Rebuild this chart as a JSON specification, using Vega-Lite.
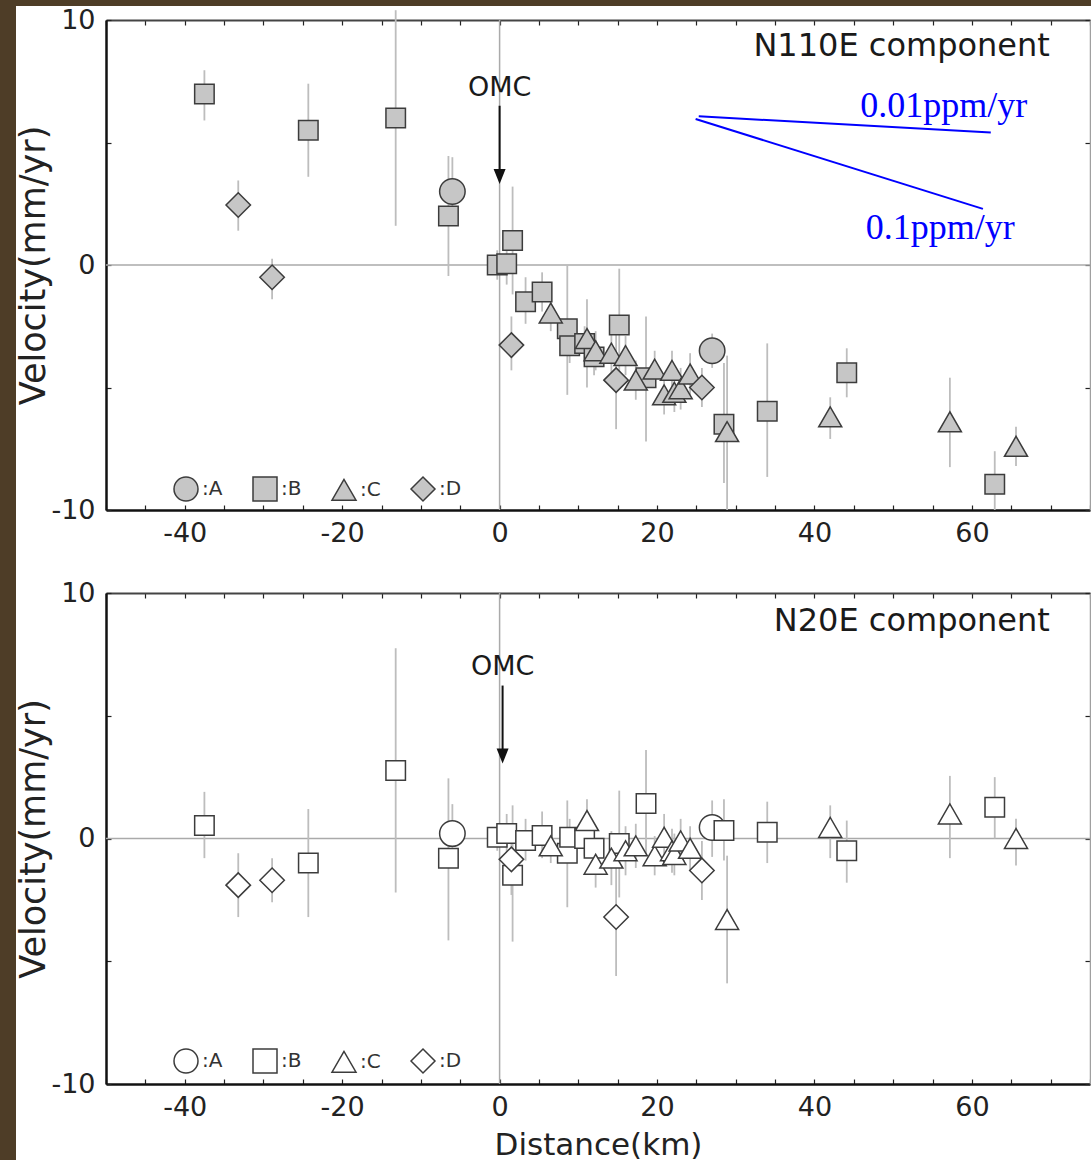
{
  "$schema": "https://vega.github.io/schema/vega-lite/v6.json",
  "background": "white",
  "padding": 0,
  "autosize": {"type": "pad"},
  "config": {"view": {"stroke": null}, "font": "DejaVu Sans"},
  "datasets": {
    "st": [
      {"g":"A","x":-6.0,"v1":3.0,"lo1":1.7,"hi1":4.4,"v2":0.2,"lo2":-1.0,"hi2":1.4},
      {"g":"A","x":27.0,"v1":-3.5,"lo1":-4.2,"hi1":-2.8,"v2":0.45,"lo2":-0.75,"hi2":1.55},
      {"g":"B","x":-37.5,"v1":6.98,"lo1":5.9,"hi1":7.95,"v2":0.53,"lo2":-0.8,"hi2":1.9},
      {"g":"B","x":-24.3,"v1":5.5,"lo1":3.6,"hi1":7.4,"v2":-1.0,"lo2":-3.2,"hi2":1.2},
      {"g":"B","x":-13.2,"v1":6.0,"lo1":1.6,"hi1":10.4,"v2":2.77,"lo2":-2.2,"hi2":7.75},
      {"g":"B","x":-6.5,"v1":2.0,"lo1":-0.45,"hi1":4.45,"v2":-0.8,"lo2":-4.15,"hi2":2.45},
      {"g":"B","x":-0.3,"v1":0.0,"lo1":-0.6,"hi1":0.6,"v2":0.05,"lo2":-0.5,"hi2":0.6},
      {"g":"B","x":0.9,"v1":0.05,"lo1":-0.8,"hi1":0.9,"v2":0.2,"lo2":-0.6,"hi2":1.0},
      {"g":"B","x":1.65,"v1":1.0,"lo1":-1.2,"hi1":3.2,"v2":-1.5,"lo2":-4.2,"hi2":1.35},
      {"g":"B","x":3.3,"v1":-1.5,"lo1":-2.4,"hi1":-0.5,"v2":-0.08,"lo2":-0.9,"hi2":0.8},
      {"g":"B","x":5.4,"v1":-1.1,"lo1":-1.9,"hi1":-0.3,"v2":0.12,"lo2":-0.8,"hi2":1.1},
      {"g":"B","x":8.6,"v1":-2.6,"lo1":-5.3,"hi1":0.0,"v2":-0.6,"lo2":-2.8,"hi2":1.55},
      {"g":"B","x":8.9,"v1":-3.3,"lo1":-4.0,"hi1":-2.6,"v2":0.05,"lo2":-0.7,"hi2":0.8},
      {"g":"B","x":10.8,"v1":-3.2,"lo1":-3.9,"hi1":-2.5,"v2":0.0,"lo2":-0.7,"hi2":0.7},
      {"g":"B","x":12.0,"v1":-3.75,"lo1":-4.5,"hi1":-3.0,"v2":-0.4,"lo2":-1.1,"hi2":0.3},
      {"g":"B","x":15.2,"v1":-2.45,"lo1":-4.5,"hi1":-0.15,"v2":-0.2,"lo2":-2.4,"hi2":1.95},
      {"g":"B","x":18.6,"v1":-4.6,"lo1":-7.2,"hi1":-2.1,"v2":1.43,"lo2":-0.7,"hi2":3.6},
      {"g":"B","x":28.5,"v1":-6.5,"lo1":-8.9,"hi1":-4.0,"v2":0.33,"lo2":-0.9,"hi2":1.6},
      {"g":"B","x":34.0,"v1":-5.97,"lo1":-8.65,"hi1":-3.2,"v2":0.25,"lo2":-1.0,"hi2":1.5},
      {"g":"B","x":44.1,"v1":-4.4,"lo1":-5.4,"hi1":-3.4,"v2":-0.5,"lo2":-1.8,"hi2":0.73},
      {"g":"B","x":62.9,"v1":-8.95,"lo1":-10.0,"hi1":-7.6,"v2":1.27,"lo2":0.0,"hi2":2.5},
      {"g":"C","x":6.5,"v1":-1.96,"lo1":-2.7,"hi1":-1.25,"v2":-0.3,"lo2":-1.0,"hi2":0.4},
      {"g":"C","x":11.1,"v1":-3.0,"lo1":-5.0,"hi1":-1.4,"v2":0.73,"lo2":-0.2,"hi2":1.6},
      {"g":"C","x":12.2,"v1":-3.5,"lo1":-4.3,"hi1":-2.7,"v2":-1.05,"lo2":-2.0,"hi2":-0.2},
      {"g":"C","x":14.2,"v1":-3.6,"lo1":-4.4,"hi1":-2.8,"v2":-0.8,"lo2":-1.9,"hi2":0.3},
      {"g":"C","x":16.0,"v1":-3.7,"lo1":-4.5,"hi1":-2.9,"v2":-0.5,"lo2":-1.5,"hi2":0.5},
      {"g":"C","x":17.3,"v1":-4.7,"lo1":-5.5,"hi1":-3.9,"v2":-0.3,"lo2":-1.2,"hi2":0.6},
      {"g":"C","x":19.7,"v1":-4.25,"lo1":-5.0,"hi1":-3.5,"v2":-0.7,"lo2":-1.5,"hi2":0.1},
      {"g":"C","x":20.9,"v1":-5.3,"lo1":-6.1,"hi1":-4.5,"v2":0.05,"lo2":-0.9,"hi2":1.0},
      {"g":"C","x":21.9,"v1":-4.3,"lo1":-5.1,"hi1":-3.5,"v2":-0.5,"lo2":-1.4,"hi2":0.4},
      {"g":"C","x":22.2,"v1":-5.2,"lo1":-6.0,"hi1":-4.4,"v2":-0.65,"lo2":-1.5,"hi2":0.2},
      {"g":"C","x":23.0,"v1":-5.05,"lo1":-5.9,"hi1":-4.2,"v2":-0.1,"lo2":-1.0,"hi2":0.8},
      {"g":"C","x":24.2,"v1":-4.45,"lo1":-5.3,"hi1":-3.6,"v2":-0.4,"lo2":-1.3,"hi2":0.5},
      {"g":"C","x":28.9,"v1":-6.8,"lo1":-10.0,"hi1":-3.7,"v2":-3.3,"lo2":-5.9,"hi2":-0.7},
      {"g":"C","x":42.0,"v1":-6.2,"lo1":-7.1,"hi1":-5.4,"v2":0.45,"lo2":-0.8,"hi2":1.35},
      {"g":"C","x":57.2,"v1":-6.4,"lo1":-8.25,"hi1":-4.6,"v2":1.0,"lo2":-0.8,"hi2":2.55},
      {"g":"C","x":65.6,"v1":-7.4,"lo1":-8.2,"hi1":-6.6,"v2":0.0,"lo2":-1.1,"hi2":0.8},
      {"g":"D","x":-33.2,"v1":2.45,"lo1":1.4,"hi1":3.45,"v2":-1.9,"lo2":-3.2,"hi2":-0.6},
      {"g":"D","x":-28.9,"v1":-0.5,"lo1":-1.4,"hi1":0.25,"v2":-1.7,"lo2":-2.6,"hi2":-0.8},
      {"g":"D","x":1.5,"v1":-3.27,"lo1":-4.3,"hi1":-2.1,"v2":-0.85,"lo2":-2.3,"hi2":0.6},
      {"g":"D","x":14.8,"v1":-4.7,"lo1":-6.7,"hi1":-2.7,"v2":-3.2,"lo2":-5.6,"hi2":-0.8},
      {"g":"D","x":25.7,"v1":-5.0,"lo1":-5.8,"hi1":-4.2,"v2":-1.3,"lo2":-2.5,"hi2":-0.1}
    ]
  },
  "spacing": 0,
  "columns": 2,
  "align": "none",
  "concat": [
    {
      "data": {"values": [{}]},
      "width": 16, "height": 6,
      "view": {"fill": "#4e3d27", "stroke": null},
      "mark": {"type": "point", "size": 0, "opacity": 0, "strokeWidth": 0}
    },
    {
      "data": {"values": [{}]},
      "width": 1075, "height": 6,
      "view": {"fill": "#4e3d27", "stroke": null},
      "mark": {"type": "point", "size": 0, "opacity": 0, "strokeWidth": 0}
    },
    {
      "data": {"values": [{}]},
      "width": 16, "height": 1154,
      "view": {"fill": "#4e3d27", "stroke": null},
      "mark": {"type": "point", "size": 0, "opacity": 0, "strokeWidth": 0}
    },
    {
      "spacing": 33,
      "resolve": {"scale": {"shape": "independent", "size": "independent"}, "legend": {"shape": "independent"}},
      "vconcat": [
        {
          "width": 984, "height": 490,
          "view": {"stroke": null},
          "data": {"name": "st"},
          "resolve": {"axis": {"x": "independent", "y": "independent"}},
          "layer": [
            {"data": {"values": [{}]}, "mark": {"type": "rule", "color": "#aaaaaa", "strokeWidth": 1.5},
             "encoding": {"x": {"datum": 0, "type": "quantitative", "scale": {"domain": [-50, 75], "nice": false}, "axis": null}}},
            {"data": {"values": [{}]}, "mark": {"type": "rule", "color": "#aaaaaa", "strokeWidth": 1.5},
             "encoding": {"y": {"datum": 0, "type": "quantitative", "scale": {"domain": [-10, 10], "nice": false}, "axis": null}}},
            {"mark": {"type": "rule", "color": "#bdbdbd", "strokeWidth": 1.8},
             "encoding": {"x": {"field": "x", "type": "quantitative", "axis": null}, "y": {"field": "lo1", "type": "quantitative", "axis": null}, "y2": {"field": "hi1"}}},
            {"mark": {"type": "point", "filled": true, "fill": "#c6c6c6", "stroke": "#3c3c3c", "strokeWidth": 1.5, "opacity": 1},
             "encoding": {
               "x": {"field": "x", "type": "quantitative", "scale": {"domain": [-50, 75], "nice": false},
                     "axis": {"orient": "bottom", "values": [-50,-45,-40,-35,-30,-25,-20,-15,-10,-5,0,5,10,15,20,25,30,35,40,45,50,55,60,65,70,75],
                              "labelExpr": "datum.value % 20 === 0 ? '' + datum.value : ''", "labelFlush": false, "labelOverlap": false,
                              "tickSize": -5, "tickColor": "#222", "tickWidth": 1.2, "domainColor": "#111", "domainWidth": 2.5,
                              "labelPadding": 15, "labelFont": "DejaVu Sans", "labelFontSize": 27, "labelColor": "#222", "title": null, "grid": false}},
               "y": {"field": "v1", "type": "quantitative", "scale": {"domain": [-10, 10], "nice": false},
                     "axis": {"orient": "left", "values": [-10,-5,0,5,10],
                              "labelExpr": "datum.value % 10 === 0 ? '' + datum.value : ''", "labelFlush": false, "labelOverlap": false,
                              "tickSize": -5, "tickColor": "#222", "tickWidth": 1.2, "domainColor": "#111", "domainWidth": 2.5,
                              "labelPadding": 16, "labelFont": "DejaVu Sans", "labelFontSize": 27, "labelColor": "#222",
                              "title": "Velocity(mm/yr)", "titleFont": "DejaVu Sans", "titleFontSize": 35, "titleFontWeight": "normal",
                              "titleColor": "#222", "titlePadding": 6, "titleBaseline": "alphabetic", "grid": false}},
               "shape": {"field": "g", "type": "nominal",
                         "scale": {"domain": ["A","B","C","D"], "range": ["circle","square","triangle-up","diamond"]},
                         "legend": {"orient": "none", "legendX": 67, "legendY": 456, "direction": "horizontal", "title": null,
                                    "symbolSize": 576, "symbolStrokeWidth": 1.5,
                                    "labelFont": "DejaVu Sans", "labelFontSize": 20, "labelColor": "#333", "labelOffset": 3,
                                    "columnPadding": 27, "padding": 0, "labelExpr": "':' + datum.label"}},
               "size": {"field": "g", "type": "nominal", "scale": {"type": "ordinal", "domain": ["D","C","B","A"], "range": [600, 530, 380, 650]}, "legend": null}
             }},
            {"data": {"values": [{}]}, "mark": {"type": "text", "text": "N110E component", "align": "right", "baseline": "alphabetic", "fontSize": 32, "font": "DejaVu Sans", "color": "#1a1a1a"},
             "encoding": {"x": {"datum": 69.9, "type": "quantitative", "axis": null}, "y": {"datum": 8.53, "type": "quantitative", "axis": null}}},
            {"data": {"values": [{}]}, "mark": {"type": "text", "text": "OMC", "align": "center", "baseline": "alphabetic", "fontSize": 27, "font": "DejaVu Sans", "color": "#1a1a1a"},
             "encoding": {"x": {"datum": 0, "type": "quantitative", "axis": null}, "y": {"datum": 6.9, "type": "quantitative", "axis": null}}},
            {"data": {"values": [{}]}, "mark": {"type": "rule", "color": "#111", "strokeWidth": 2},
             "encoding": {"x": {"datum": 0, "type": "quantitative", "axis": null}, "y": {"datum": 6.5, "type": "quantitative", "axis": null}, "y2": {"datum": 3.7}}},
            {"data": {"values": [{}]}, "mark": {"type": "point", "shape": "M-0.4,-1L0.4,-1L0,0Z", "size": 900, "filled": true, "color": "#111", "opacity": 1},
             "encoding": {"x": {"datum": 0, "type": "quantitative", "axis": null}, "y": {"datum": 3.31, "type": "quantitative", "axis": null}}},
            {"data": {"values": [{}]}, "mark": {"type": "rule", "color": "#0000ff", "strokeWidth": 2},
             "encoding": {"x": {"datum": 25.3, "type": "quantitative", "axis": null}, "y": {"datum": 6.07, "type": "quantitative", "axis": null}, "x2": {"datum": 62.4}, "y2": {"datum": 5.41}}},
            {"data": {"values": [{}]}, "mark": {"type": "rule", "color": "#0000ff", "strokeWidth": 2},
             "encoding": {"x": {"datum": 24.9, "type": "quantitative", "axis": null}, "y": {"datum": 5.96, "type": "quantitative", "axis": null}, "x2": {"datum": 61.4}, "y2": {"datum": 2.29}}},
            {"data": {"values": [{}]}, "mark": {"type": "text", "text": "0.01ppm/yr", "align": "left", "baseline": "alphabetic", "fontSize": 36, "font": "Liberation Serif", "color": "#0000ff"},
             "encoding": {"x": {"datum": 45.8, "type": "quantitative", "axis": null}, "y": {"datum": 6.04, "type": "quantitative", "axis": null}}},
            {"data": {"values": [{}]}, "mark": {"type": "text", "text": "0.1ppm/yr", "align": "left", "baseline": "alphabetic", "fontSize": 36, "font": "Liberation Serif", "color": "#0000ff"},
             "encoding": {"x": {"datum": 46.5, "type": "quantitative", "axis": null}, "y": {"datum": 1.06, "type": "quantitative", "axis": null}}},
            {"data": {"values": [{}]}, "mark": {"type": "point", "opacity": 0},
             "encoding": {
               "x": {"datum": 0, "type": "quantitative", "axis": {"orient": "top", "values": [-50,-45,-40,-35,-30,-25,-20,-15,-10,-5,0,5,10,15,20,25,30,35,40,45,50,55,60,65,70,75], "labels": false, "tickSize": -5, "tickColor": "#222", "tickWidth": 1.2, "domainColor": "#444", "domainWidth": 2, "title": null, "grid": false}},
               "y": {"datum": 0, "type": "quantitative", "axis": {"orient": "right", "values": [-10,-5,0,5,10], "labels": false, "tickSize": -5, "tickColor": "#222", "tickWidth": 1.2, "domainColor": "#a0a0a0", "domainWidth": 1.5, "title": null, "grid": false}}
             }}
          ]
        },
        {
          "width": 984, "height": 491,
          "view": {"stroke": null},
          "data": {"name": "st"},
          "resolve": {"axis": {"x": "independent", "y": "independent"}},
          "layer": [
            {"data": {"values": [{}]}, "mark": {"type": "rule", "color": "#aaaaaa", "strokeWidth": 1.5},
             "encoding": {"x": {"datum": 0, "type": "quantitative", "scale": {"domain": [-50, 75], "nice": false}, "axis": null}}},
            {"data": {"values": [{}]}, "mark": {"type": "rule", "color": "#aaaaaa", "strokeWidth": 1.5},
             "encoding": {"y": {"datum": 0, "type": "quantitative", "scale": {"domain": [-10, 10], "nice": false}, "axis": null}}},
            {"mark": {"type": "rule", "color": "#bdbdbd", "strokeWidth": 1.8},
             "encoding": {"x": {"field": "x", "type": "quantitative", "axis": null}, "y": {"field": "lo2", "type": "quantitative", "axis": null}, "y2": {"field": "hi2"}}},
            {"mark": {"type": "point", "filled": true, "fill": "#ffffff", "stroke": "#3c3c3c", "strokeWidth": 1.5, "opacity": 1},
             "encoding": {
               "x": {"field": "x", "type": "quantitative", "scale": {"domain": [-50, 75], "nice": false},
                     "axis": {"orient": "bottom", "values": [-50,-45,-40,-35,-30,-25,-20,-15,-10,-5,0,5,10,15,20,25,30,35,40,45,50,55,60,65,70,75],
                              "labelExpr": "datum.value % 20 === 0 ? '' + datum.value : ''", "labelFlush": false, "labelOverlap": false,
                              "tickSize": -5, "tickColor": "#222", "tickWidth": 1.2, "domainColor": "#111", "domainWidth": 2.5,
                              "labelPadding": 15, "labelFont": "DejaVu Sans", "labelFontSize": 27, "labelColor": "#222",
                              "title": "Distance(km)", "titleFont": "DejaVu Sans", "titleFontSize": 31, "titleFontWeight": "normal", "titleColor": "#222", "titlePadding": 10, "grid": false}},
               "y": {"field": "v2", "type": "quantitative", "scale": {"domain": [-10, 10], "nice": false},
                     "axis": {"orient": "left", "values": [-10,-5,0,5,10],
                              "labelExpr": "datum.value % 10 === 0 ? '' + datum.value : ''", "labelFlush": false, "labelOverlap": false,
                              "tickSize": -5, "tickColor": "#222", "tickWidth": 1.2, "domainColor": "#111", "domainWidth": 2.5,
                              "labelPadding": 16, "labelFont": "DejaVu Sans", "labelFontSize": 27, "labelColor": "#222",
                              "title": "Velocity(mm/yr)", "titleFont": "DejaVu Sans", "titleFontSize": 35, "titleFontWeight": "normal",
                              "titleColor": "#222", "titlePadding": 6, "titleBaseline": "alphabetic", "grid": false}},
               "shape": {"field": "g", "type": "nominal",
                         "scale": {"domain": ["A","B","C","D"], "range": ["circle","square","triangle-up","diamond"]},
                         "legend": {"orient": "none", "legendX": 67, "legendY": 455, "direction": "horizontal", "title": null,
                                    "symbolSize": 576, "symbolStrokeWidth": 1.5,
                                    "labelFont": "DejaVu Sans", "labelFontSize": 20, "labelColor": "#333", "labelOffset": 3,
                                    "columnPadding": 27, "padding": 0, "labelExpr": "':' + datum.label"}},
               "size": {"field": "g", "type": "nominal", "scale": {"type": "ordinal", "domain": ["D","C","B","A"], "range": [600, 530, 380, 650]}, "legend": null}
             }},
            {"data": {"values": [{}]}, "mark": {"type": "text", "text": "N20E component", "align": "right", "baseline": "alphabetic", "fontSize": 32, "font": "DejaVu Sans", "color": "#1a1a1a"},
             "encoding": {"x": {"datum": 69.9, "type": "quantitative", "axis": null}, "y": {"datum": 8.47, "type": "quantitative", "axis": null}}},
            {"data": {"values": [{}]}, "mark": {"type": "text", "text": "OMC", "align": "center", "baseline": "alphabetic", "fontSize": 27, "font": "DejaVu Sans", "color": "#1a1a1a"},
             "encoding": {"x": {"datum": 0.38, "type": "quantitative", "axis": null}, "y": {"datum": 6.68, "type": "quantitative", "axis": null}}},
            {"data": {"values": [{}]}, "mark": {"type": "rule", "color": "#111", "strokeWidth": 2},
             "encoding": {"x": {"datum": 0.38, "type": "quantitative", "axis": null}, "y": {"datum": 6.23, "type": "quantitative", "axis": null}, "y2": {"datum": 3.5}}},
            {"data": {"values": [{}]}, "mark": {"type": "point", "shape": "M-0.4,-1L0.4,-1L0,0Z", "size": 900, "filled": true, "color": "#111", "opacity": 1},
             "encoding": {"x": {"datum": 0.38, "type": "quantitative", "axis": null}, "y": {"datum": 3.05, "type": "quantitative", "axis": null}}},
            {"data": {"values": [{}]}, "mark": {"type": "point", "opacity": 0},
             "encoding": {
               "x": {"datum": 0, "type": "quantitative", "axis": {"orient": "top", "values": [-50,-45,-40,-35,-30,-25,-20,-15,-10,-5,0,5,10,15,20,25,30,35,40,45,50,55,60,65,70,75], "labels": false, "tickSize": -5, "tickColor": "#222", "tickWidth": 1.2, "domainColor": "#444", "domainWidth": 2, "title": null, "grid": false}},
               "y": {"datum": 0, "type": "quantitative", "axis": {"orient": "right", "values": [-10,-5,0,5,10], "labels": false, "tickSize": -5, "tickColor": "#222", "tickWidth": 1.2, "domainColor": "#a0a0a0", "domainWidth": 1.5, "title": null, "grid": false}}
             }}
          ]
        }
      ]
    }
  ]
}
